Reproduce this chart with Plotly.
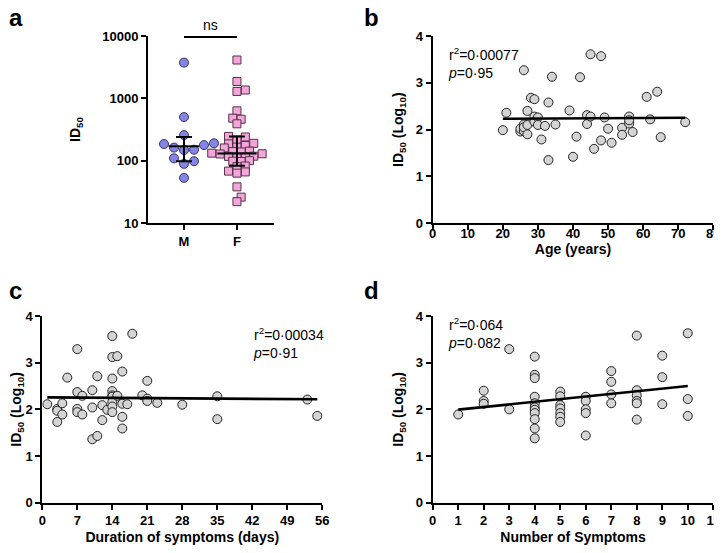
import numpy as np
import plotly.graph_objects as go

# ---------------- data ----------------
# Panel a: ID50 by sex
sex_cats = ["M", "F"]
M_id50 = [3740, 500, 257, 178, 190, 162, 185, 148, 150, 98, 89, 109, 53]
F_id50 = [4120, 1860, 1360, 1290, 630, 480, 462, 390, 240, 245, 215, 190, 186, 175,
          160, 165, 142, 138, 140, 132, 129, 128, 118, 117, 116, 115, 100, 98, 97,
          82, 80, 68, 66, 63, 38, 26, 22]
M_median, M_q1, M_q3 = 170, 98, 240
F_median, F_q1, F_q3 = 130, 83, 245

# Panel b: age vs log10 ID50
age = [20, 21, 25, 25, 26, 26, 26, 26, 27, 27, 27, 28, 29, 29, 29, 30, 30, 31, 32, 33,
       33, 34, 35, 39, 40, 41, 42, 44, 44, 45, 45, 46, 48, 48, 49, 50, 51, 54, 54, 56,
       56, 56, 57, 61, 62, 64, 65, 72]
age_log = [1.99, 2.36, 1.96, 2.02, 3.27, 1.97, 2.11, 2.05, 2.40, 1.90, 2.10, 2.68, 2.65,
           2.28, 2.17, 2.26, 2.10, 1.79, 2.08, 2.58, 1.35, 3.13, 2.11, 2.41, 1.42, 1.85,
           3.12, 2.12, 2.31, 2.28, 3.61, 1.59, 3.57, 1.77, 2.26, 2.02, 1.72, 2.04, 1.89,
           2.13, 2.28, 2.20, 1.95, 2.70, 2.22, 2.81, 1.84, 2.16]

# Panel c: duration of symptoms vs log10 ID50
duration = [1, 3, 3, 3, 4, 4, 5, 7, 7, 7, 7, 8, 8, 10, 10, 10, 11, 11, 12, 12, 13,
            14, 14, 14, 14, 14, 14, 14, 14, 14, 15, 15, 16, 16, 16, 16, 17, 18, 20,
            21, 21, 21, 23, 28, 35, 35, 53, 55]
duration_log = [2.11, 2.01, 1.97, 1.73, 2.13, 1.89, 2.68, 3.29, 2.37, 2.01, 1.94, 2.29,
                1.89, 2.41, 2.04, 1.36, 2.71, 1.43, 2.09, 1.77, 1.99, 3.57, 3.12, 2.66,
                2.39, 2.30, 2.27, 2.16, 2.06, 1.94, 3.14, 2.29, 2.81, 2.12, 1.84, 1.59,
                2.11, 3.62, 2.30, 2.61, 2.23, 2.18, 2.14, 2.10, 2.28, 1.79, 2.21, 1.86]

# Panel d: number of symptoms vs log10 ID50
n_symptoms = [1, 2, 2, 2, 3, 3,
              4, 4, 4, 4, 4, 4, 4, 4, 4, 4, 4,
              5, 5, 5, 5, 5, 5, 5,
              6, 6, 6, 6, 6,
              7, 7, 7, 7,
              8, 8, 8, 8, 8, 8,
              9, 9, 9,
              10, 10, 10]
n_symptoms_log = [1.89, 2.40, 2.18, 2.12, 3.29, 2.00,
                  3.13, 2.74, 2.67, 2.27, 2.13, 2.04, 1.99, 1.92, 1.79, 1.59, 1.38,
                  2.38, 2.28, 2.09, 2.02, 1.92, 1.84, 1.73,
                  2.27, 2.18, 2.00, 1.92, 1.44,
                  2.82, 2.59, 2.32, 2.13,
                  3.58, 2.41, 2.30, 2.18, 2.13, 1.78,
                  3.15, 2.69, 2.11,
                  3.63, 2.22, 1.86]

stats_b = ["r<sup>2</sup>=0·00077", "<i>p</i>=0·95"]
stats_c = ["r<sup>2</sup>=0·00034", "<i>p</i>=0·91"]
stats_d = ["r<sup>2</sup>=0·064", "<i>p</i>=0·082"]

# ---------------- styling ----------------
OFF = 8                       # page body margin (figure starts at page x=8, y=8)
W, H = 722 - OFF, 553 - 2 * OFF
FONT = "Arial, Liberation Sans, sans-serif"
GRAY = "#d4d4d4"
M_COL = "#8585e6"
F_COL = "#f3a6dc"
MS = 9


def px(x):
    return (x - OFF) / W


def py(y):
    return 1 - (y - OFF) / H


def dom_x(a, b):
    return [px(a), px(b)]


def dom_y(top, bottom):
    return [py(bottom), py(top)]


fig = go.Figure()

# ---------- panel a: beeswarm ----------
ax_px = (274 - 148) / (2.70 - 0.32)   # px per x unit
ay_px = (223 - 36) / 3.0             # px per log decade


def swarm(vals, center, diam=6.6, step=4.8):
    ys = np.log10(np.asarray(vals, float)) * ay_px
    order = np.argsort(ys)
    placed = []
    xs = np.zeros(len(ys))
    for i in order:
        cands = [0.0]
        for k in range(1, 20):
            cands += [k * step, -k * step]
        for c in cands:
            if all((c - a) ** 2 + (ys[i] - b) ** 2 >= diam ** 2 for a, b in placed):
                xs[i] = c
                placed.append((c, ys[i]))
                break
    return center + xs / ax_px


fig.add_trace(go.Scatter(
    x=swarm(M_id50, 1, diam=8.5, step=5), y=M_id50, mode="markers", xaxis="x", yaxis="y",
    marker=dict(symbol="circle", size=MS, color=M_COL, line=dict(color="#333366", width=1)),
    showlegend=False))
fig.add_trace(go.Scatter(
    x=swarm(F_id50, 2, diam=5.6, step=4.2), y=F_id50, mode="markers", xaxis="x", yaxis="y",
    marker=dict(symbol="square", size=MS - 1, color=F_COL, line=dict(color="#553344", width=1)),
    showlegend=False))

# median + IQR
for xc, med, q1, q3, half in [(1, M_median, M_q1, M_q3, 0.29), (2, F_median, F_q1, F_q3, 0.37)]:
    fig.add_trace(go.Scatter(x=[xc - half, xc + half], y=[med, med], mode="lines",
                             line=dict(color="black", width=2), xaxis="x", yaxis="y",
                             showlegend=False))
    fig.add_trace(go.Scatter(x=[xc], y=[med], mode="markers", marker=dict(size=1, opacity=0),
                             error_y=dict(type="data", symmetric=False, array=[q3 - med],
                                          arrayminus=[med - q1], color="black", thickness=2,
                                          width=8),
                             xaxis="x", yaxis="y", showlegend=False))


# ---------- regression helper ----------
def fit_line(xv, yv):
    xv = np.asarray(xv, float)
    yv = np.asarray(yv, float)
    k, b = np.polyfit(xv, yv, 1)
    xs = np.array([xv.min(), xv.max()])
    return xs, k * xs + b


for xs, ys, xa, ya in [(age, age_log, "x2", "y2"),
                       (duration, duration_log, "x3", "y3"),
                       (n_symptoms, n_symptoms_log, "x4", "y4")]:
    fig.add_trace(go.Scatter(x=xs, y=ys, mode="markers", xaxis=xa, yaxis=ya,
                             marker=dict(size=MS, color=GRAY, line=dict(color="#222222", width=1)),
                             showlegend=False))
    lx, ly = fit_line(xs, ys)
    fig.add_trace(go.Scatter(x=lx, y=ly, mode="lines", xaxis=xa, yaxis=ya,
                             line=dict(color="black", width=2.6), showlegend=False))

# ---------- axes ----------
tickfont = dict(family=FONT, size=13, color="black", weight="bold")
titlefont = dict(family=FONT, size=14, color="black", weight="bold")
common = dict(showline=True, linecolor="black", linewidth=2, ticks="outside", ticklen=5,
              tickwidth=2, tickcolor="black", showgrid=False, zeroline=False,
              tickfont=tickfont, mirror=False, ticklabeloverflow="allow")
ytitle = "ID<sub>50</sub> (Log<sub>10</sub>)"

layout = dict(
    width=W, height=H, margin=dict(l=0, r=0, t=0, b=0, autoexpand=False),
    paper_bgcolor="white", plot_bgcolor="white", showlegend=False,
    font=dict(family=FONT, color="black"),
    xaxis=dict(domain=dom_x(148, 274), range=[0.32, 2.70], tickvals=[1, 2], ticktext=sex_cats,
               anchor="y", **common),
    yaxis=dict(domain=dom_y(36, 223), type="log", range=[1, 4],
               tickvals=[10, 100, 1000, 10000], ticktext=["10", "100", "1000", "10000"],
               title=dict(text="ID<sub>50</sub>", font=titlefont, standoff=18),
               anchor="x", **common),
    xaxis2=dict(domain=dom_x(432.7, 713.3), range=[0, 80], dtick=10, tick0=0, anchor="y2",
                ticklabelstandoff=-8,
                title=dict(text="Age (years)", font=titlefont, standoff=1), **common),
    yaxis2=dict(domain=dom_y(36, 223.3), range=[0, 4], dtick=1, anchor="x2",
                title=dict(text=ytitle, font=titlefont, standoff=9), **common),
    xaxis3=dict(domain=dom_x(42.3, 322.3), range=[0, 56], dtick=7, tick0=0, anchor="y3",
                title=dict(text="Duration of symptoms (days)", font=titlefont, standoff=7),
                **common),
    yaxis3=dict(domain=dom_y(316, 502.7), range=[0, 4], dtick=1, anchor="x3",
                title=dict(text=ytitle, font=titlefont, standoff=10), **common),
    xaxis4=dict(domain=dom_x(432.7, 713.3), range=[0, 11], dtick=1, tick0=0, anchor="y4",
                title=dict(text="Number of Symptoms", font=titlefont, standoff=7), **common),
    yaxis4=dict(domain=dom_y(316, 502.7), range=[0, 4], dtick=1, anchor="x4",
                title=dict(text=ytitle, font=titlefont, standoff=9), **common),
)
fig.update_layout(**layout)

# ---------- annotations ----------
ann = []
letter_font = dict(family=FONT, size=24, color="black", weight="bold")
for txt, x, y in [("a", 16, 17), ("b", 371, 17), ("c", 15, 290), ("d", 371, 290)]:
    ann.append(dict(text=txt, x=px(x), y=py(y), xref="paper", yref="paper",
                    showarrow=False, font=letter_font, xanchor="center", yanchor="middle"))

stat_font = dict(family=FONT, size=14, color="black")
for lines, x, y in [(stats_b, 446, 43), (stats_c, 251, 323), (stats_d, 446, 313)]:
    ann.append(dict(text="<br>".join(lines), x=px(x), y=py(y), xref="paper", yref="paper",
                    showarrow=False, font=stat_font, xanchor="left", yanchor="top", align="left"))

# ns bar
ann.append(dict(text="ns", x=1.5, xref="x", y=py(25), yref="paper", showarrow=False,
                font=dict(family=FONT, size=14, color="black"), yanchor="middle"))
fig.update_layout(annotations=ann)
fig.add_shape(type="line", xref="x", yref="paper", x0=1, x1=2, y0=py(37), y1=py(37),
              line=dict(color="black", width=2))

fig.write_html("out.html")
